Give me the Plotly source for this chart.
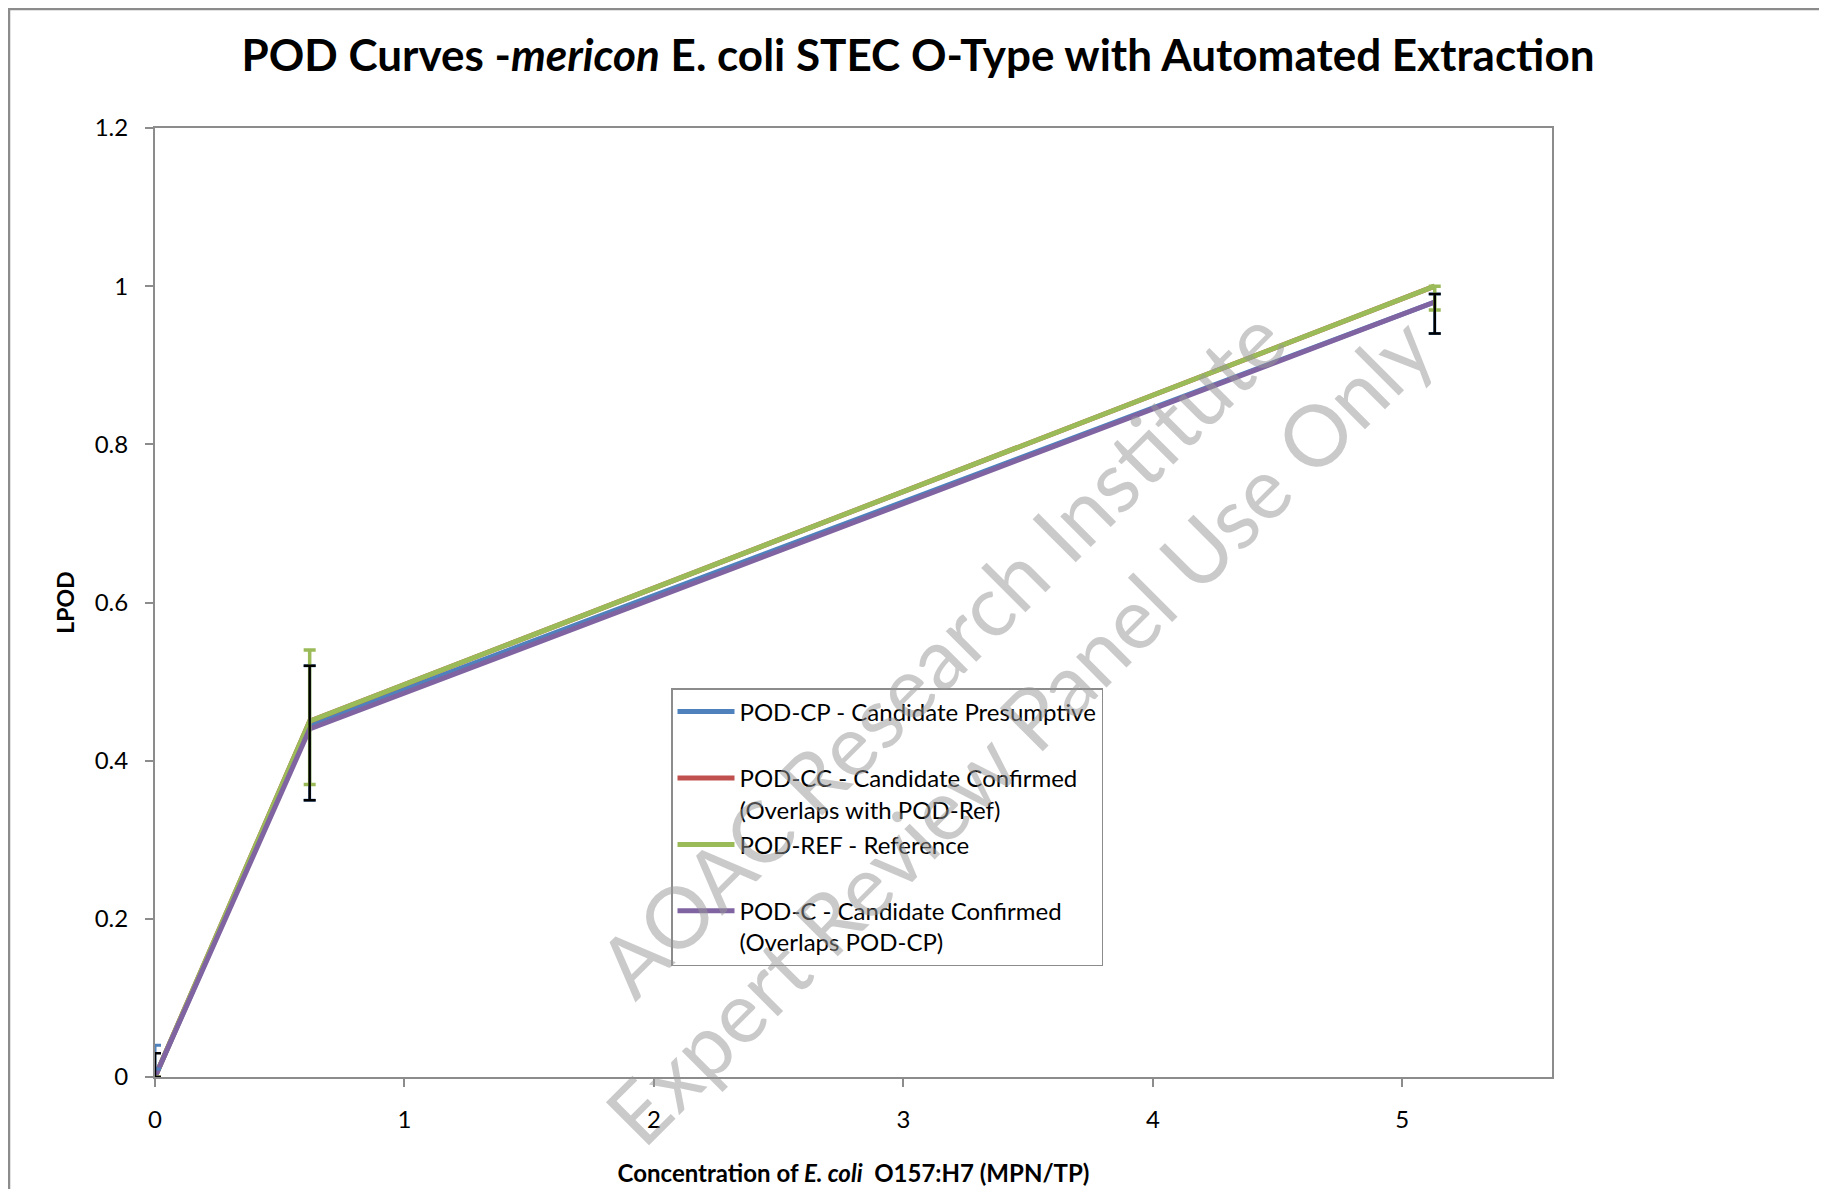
import plotly.graph_objects as go

# ---- data ----
conc = [0.0, 0.62, 5.13]
pod_cp = [0.0, 0.445, 0.98]
pod_cc = [0.0, 0.45, 1.0]
pod_ref = [0.0, 0.45, 1.0]
pod_c = [0.0, 0.44, 0.98]

cp_lcl = [0.01, 0.35, 0.94]
cp_ucl = [0.04, 0.52, 0.99]
ref_lcl = [0.0, 0.37, 0.97]
ref_ucl = [0.0, 0.54, 1.0]
c_lcl = [0.0, 0.35, 0.94]
c_ucl = [0.03, 0.52, 0.99]

names = [
    "POD-CP - Candidate Presumptive<br>\u00a0",
    "POD-CC - Candidate Confirmed<br>(Overlaps with POD-Ref)",
    "POD-REF - Reference<br>\u00a0",
    "POD-C - Candidate Confirmed<br>(Overlaps POD-CP)",
]
colors = ["#4F81BD", "#C0504D", "#9BBB59", "#8064A2"]

# page has an 8px body margin; layout is in figure coordinates
W, H = 1819, 1181
L, T = 147, 120
pw, ph = 1397, 949
R = W - L - pw
B = H - T - ph


def err_trace(lcl, ucl, color, thick):
    return go.Scatter(
        x=conc, y=lcl, mode="markers", marker=dict(opacity=0, size=1),
        showlegend=False, hoverinfo="skip",
        error_y=dict(type="data", symmetric=False,
                     array=[u - l for u, l in zip(ucl, lcl)],
                     arrayminus=[0] * len(lcl),
                     color=color, thickness=thick, width=6),
    )


fig = go.Figure()
for i, (nm, ys, col) in enumerate(zip(names, [pod_cp, pod_cc, pod_ref, pod_c], colors)):
    fig.add_trace(go.Scatter(x=conc, y=ys, mode="lines", name=nm,
                             legendgroup=f"g{i}",
                             line=dict(color=col, width=5)))
fig.add_trace(err_trace(cp_lcl, cp_ucl, colors[0], 3))
fig.add_trace(err_trace(ref_lcl, ref_ucl, colors[2], 3.5))
fig.add_trace(err_trace(c_lcl, c_ucl, "#000000", 2.5))

fig.update_layout(
    width=W, height=H,
    margin=dict(l=L, r=R, t=T, b=B, autoexpand=False),
    paper_bgcolor="white", plot_bgcolor="white",
    font=dict(family="Lato", color="#000000"),
    title=dict(
        text="<b>POD Curves -<i>mericon</i> E. coli STEC O-Type with Automated Extraction</b>",
        x=(918 - 8) / W, xanchor="center", y=1 - (56 - 8) / H, yanchor="middle",
        font=dict(family="Lato", size=44, color="#000000"),
    ),
    legend=dict(
        x=(671 - 8 - L) / pw, y=(T + ph - (688 - 8)) / ph, xanchor="left", yanchor="top",
        bgcolor="white", bordercolor="#8c8c8c", borderwidth=1.5,
        font=dict(family="Lato", size=24, color="#000000"),
        valign="top", tracegroupgap=1, itemwidth=57,
    ),
    showlegend=True,
)

fig.update_xaxes(
    range=[0, 5.6], dtick=1, tick0=0, automargin=False,
    showgrid=False, zeroline=False,
    showline=True, linecolor="#8c8c8c", linewidth=2, mirror=True,
    ticks="outside", ticklen=8, tickcolor="#8c8c8c", tickwidth=2,
    ticklabelstandoff=12,
    tickfont=dict(family="Lato", size=24),
    title=dict(text="<b>Concentration of <i>E. coli</i>  O157:H7 (MPN/TP)</b>",
               font=dict(family="Lato", size=24), standoff=33),
)
fig.update_yaxes(
    range=[0, 1.2], dtick=0.2, tick0=0, automargin=False,
    showgrid=False, zeroline=False,
    showline=True, linecolor="#8c8c8c", linewidth=2, mirror=True,
    ticks="outside", ticklen=8, tickcolor="#8c8c8c", tickwidth=2,
    ticklabelstandoff=12,
    tickformat="~g",
    tickfont=dict(family="Lato", size=24),
    title=dict(text="<b>LPOD</b>", font=dict(family="Lato", size=23), standoff=14),
)

# watermark
fig.add_annotation(
    text="AOAC Research Institute<br>Expert Review Panel Use Only",
    xref="paper", yref="paper",
    x=(979 - 8 - L) / pw, y=(T + ph - (690 - 8)) / ph, xanchor="center", yanchor="middle",
    textangle=-45, showarrow=False, align="center",
    font=dict(family="Lato", size=85, color="rgba(150,150,150,0.5)"),
)

# outer chart frame
fig.add_shape(type="rect", xref="paper", yref="paper",
              x0=(1 - L) / pw, y0=-(B + 20) / ph, x1=(W + 20 - L) / pw, y1=(T + ph - 1) / ph,
              line=dict(color="#8c8c8c", width=2.5), fillcolor="rgba(0,0,0,0)", layer="below")

fig.write_html("out.html")
